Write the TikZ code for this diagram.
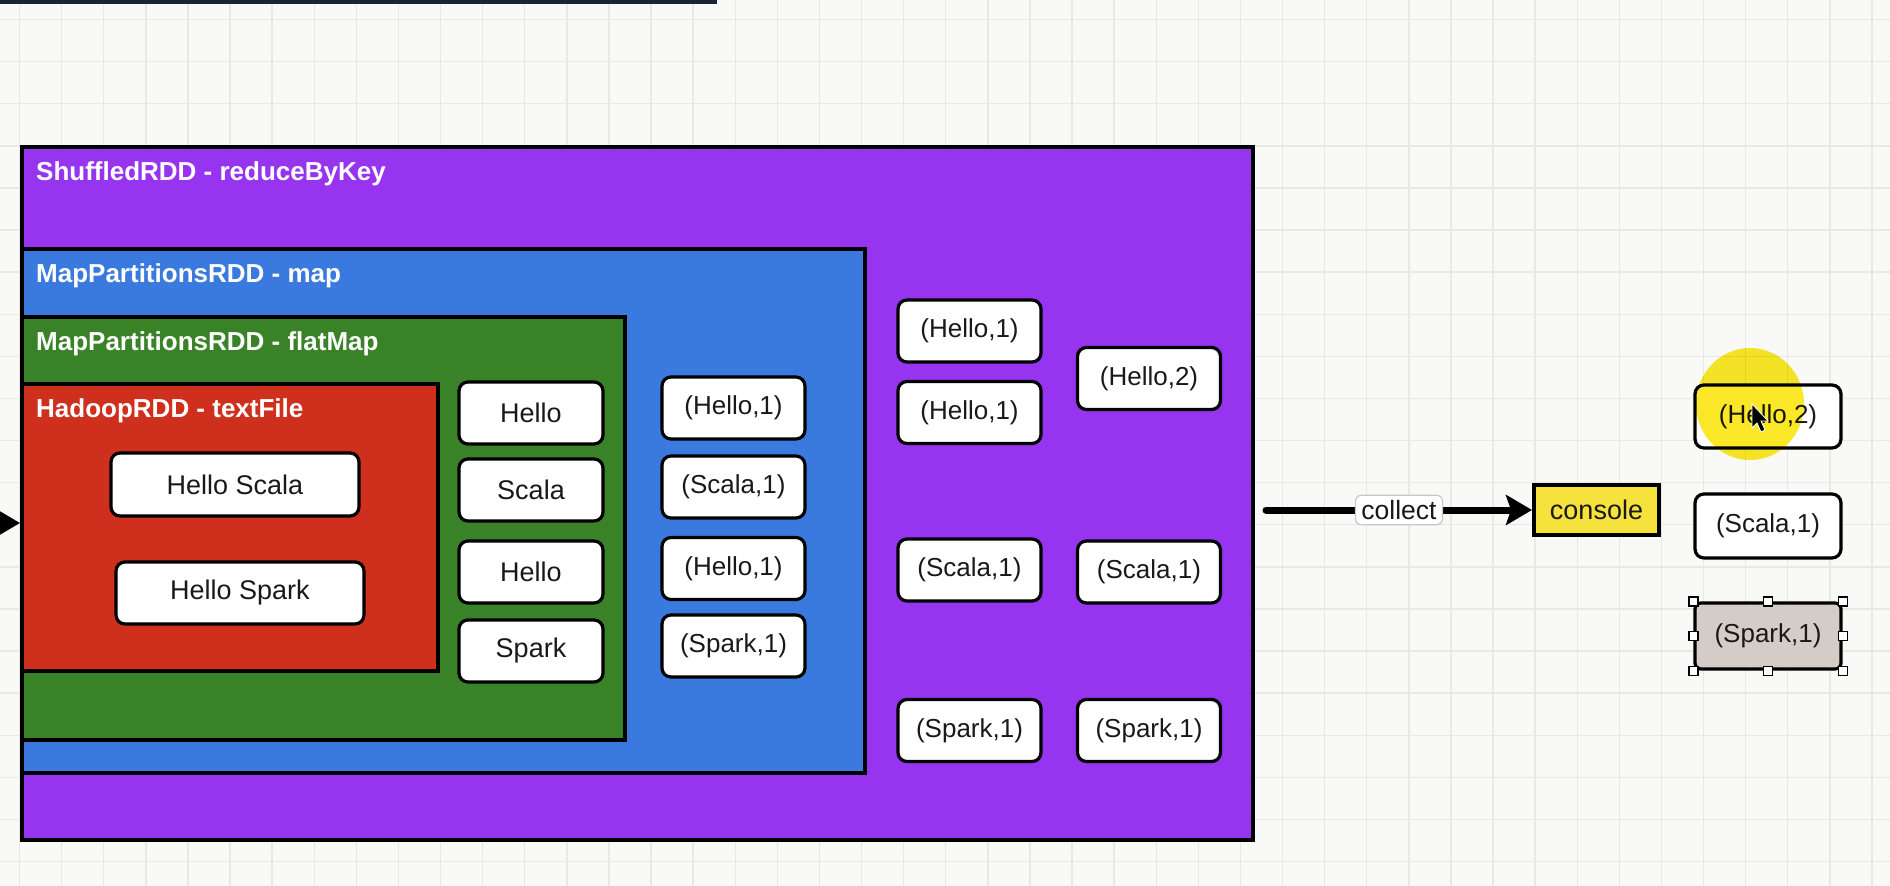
\documentclass[tikz,border=0pt]{standalone}
\usepackage{fontspec}
\setmainfont{Liberation Sans}
\usetikzlibrary{arrows.meta}
\definecolor{purp}{RGB}{150,52,240}
\definecolor{bluec}{RGB}{58,122,222}
\definecolor{greenc}{RGB}{58,130,40}
\definecolor{redc}{RGB}{207,48,30}
\definecolor{consy}{RGB}{245,226,60}
\definecolor{sparkg}{RGB}{212,204,198}
\definecolor{gridc}{RGB}{232,233,231}
\definecolor{bgc}{RGB}{249,249,247}
\definecolor{topbar}{RGB}{27,36,54}
\definecolor{txt}{RGB}{25,25,25}
\definecolor{hl}{RGB}{250,232,40}
\begin{document}
\begin{tikzpicture}[x=1pt,y=-1pt,
  cont/.style={draw=black, line width=4pt, anchor=north west, inner sep=0pt},
  cell/.style={draw=black, line width=3.2pt, rounded corners=9pt, fill=white, text=txt,
    font=\fontsize{26}{30}\selectfont, minimum height=62pt, inner sep=0pt},
  wcell/.style={cell, minimum width=144pt},
  pcell/.style={cell, minimum width=143pt},
  clabel/.style={anchor=west, text=white, font=\fontsize{26}{30}\selectfont\bfseries, inner sep=0pt},
  fatarrow/.style={draw=black, line width=7pt, -{Stealth[length=26pt,width=30pt,inset=5pt]}},
  collectlbl/.style={fill=white, draw=black!22, line width=1.2pt, rounded corners=6pt, text=txt,
    font=\fontsize{26.5}{30}\selectfont, inner xsep=6pt, inner ysep=5pt},
  handle/.style={draw=black, fill=white, line width=1.2pt, minimum size=9pt, inner sep=0pt}
]
\useasboundingbox (0,0) rectangle (1890,886);
\clip (0,0) rectangle (1890,886);
% background and grid
\fill[bgc] (0,0) rectangle (1890,886);
\foreach \i in {0,...,44} \draw[gridc, line width=1.4pt] ({19.5+42.1*\i},0) -- ++(0,886);
\foreach \j in {0,...,20} \draw[gridc, line width=1.4pt] (0,{19.5+42.1*\j}) -- ++(1890,0);
% top bar
\fill[topbar] (0,0) rectangle (717,4);

% containers
\node[cont, fill=purp, minimum width=1231pt, minimum height=693pt] (shuf) at (20,145) {};
\node[cont, fill=bluec, minimum width=843pt, minimum height=524pt] (mapr) at (20,247) {};
\node[cont, fill=greenc, minimum width=603pt, minimum height=423pt] (flat) at (20,315) {};
\node[cont, fill=redc, minimum width=416pt, minimum height=287pt] (hadoop) at (20,382) {};

\node[clabel] (lshuf) at (36,174) {ShuffledRDD - reduceByKey};
\node[clabel] (lmap) at (36,276) {MapPartitionsRDD - map};
\node[clabel] (lflat) at (36,344) {MapPartitionsRDD - flatMap};
\node[clabel] (lhad) at (36,411) {HadoopRDD - textFile};

% lines
\node[cell, minimum width=248pt, minimum height=63pt, font=\fontsize{27}{30}\selectfont] (l1) at (235,484.5) {Hello Scala};
\node[cell, minimum width=248pt, font=\fontsize{27}{30}\selectfont] (l2) at (240,593) {Hello Spark};

% words
\node[wcell, font=\fontsize{27}{30}\selectfont] (w1) at (531,413) {Hello};
\node[wcell, font=\fontsize{27}{30}\selectfont] (w2) at (531,490) {Scala};
\node[wcell, font=\fontsize{27}{30}\selectfont] (w3) at (531,572) {Hello};
\node[wcell, font=\fontsize{27}{30}\selectfont] (w4) at (531,651) {Spark};

% pairs (map)
\node[pcell] (p1) at (733.5,408) {(Hello,1)};
\node[pcell] (p2) at (733.5,487) {(Scala,1)};
\node[pcell] (p3) at (733.5,568.5) {(Hello,1)};
\node[pcell] (p4) at (733.5,646) {(Spark,1)};

% shuffled groups
\node[pcell] (s1) at (969.5,331) {(Hello,1)};
\node[pcell] (s2) at (969.5,412.5) {(Hello,1)};
\node[pcell] (s3) at (969.5,570) {(Scala,1)};
\node[pcell] (s4) at (969.5,730.5) {(Spark,1)};

% reduced
\node[pcell] (r1) at (1149,378.5) {(Hello,2)};
\node[pcell] (r2) at (1149,572) {(Scala,1)};
\node[pcell] (r3) at (1149,730.5) {(Spark,1)};

% incoming arrow at left
\coordinate (lin) at (-60,523);
\draw[fatarrow] (lin) -- (lin -| shuf.west);

% collect -> console
\node[draw=black, line width=4pt, fill=consy, text=txt, font=\fontsize{27}{30}\selectfont,
  minimum width=125pt, minimum height=50pt, inner sep=0pt] (console) at (1596.5,510) {console};
\coordinate (cstart) at (1266,510);
\draw[fatarrow, line cap=round] (cstart) -- node[collectlbl] (clbl) {collect} (console.west);

% output
\node[cell, minimum width=146pt, minimum height=63pt] (o1) at (1768,416.5) {(Hello,2)};
\node[cell, minimum width=146pt, minimum height=64pt] (o2) at (1768,526) {(Scala,1)};
\node[cell, minimum width=146pt, minimum height=66pt, fill=sparkg, rounded corners=6pt] (o3) at (1768,636) {(Spark,1)};

% selection handles
\foreach \a in {north west,north,north east,west,east,south west,south,south east}
  \node[handle] at (o3.\a) {};

% cursor highlight
\begin{scope}[blend mode=multiply]
\fill[hl] (1750,404) ellipse [x radius=54, y radius=56];
\end{scope}
\filldraw[fill=black, draw=white, line width=0.8pt]
  (1752,404) -- (1752,428) -- (1757,423) -- (1761,432) -- (1765,430) -- (1761,421) -- (1768,421) -- cycle;
\end{tikzpicture}
\end{document}
